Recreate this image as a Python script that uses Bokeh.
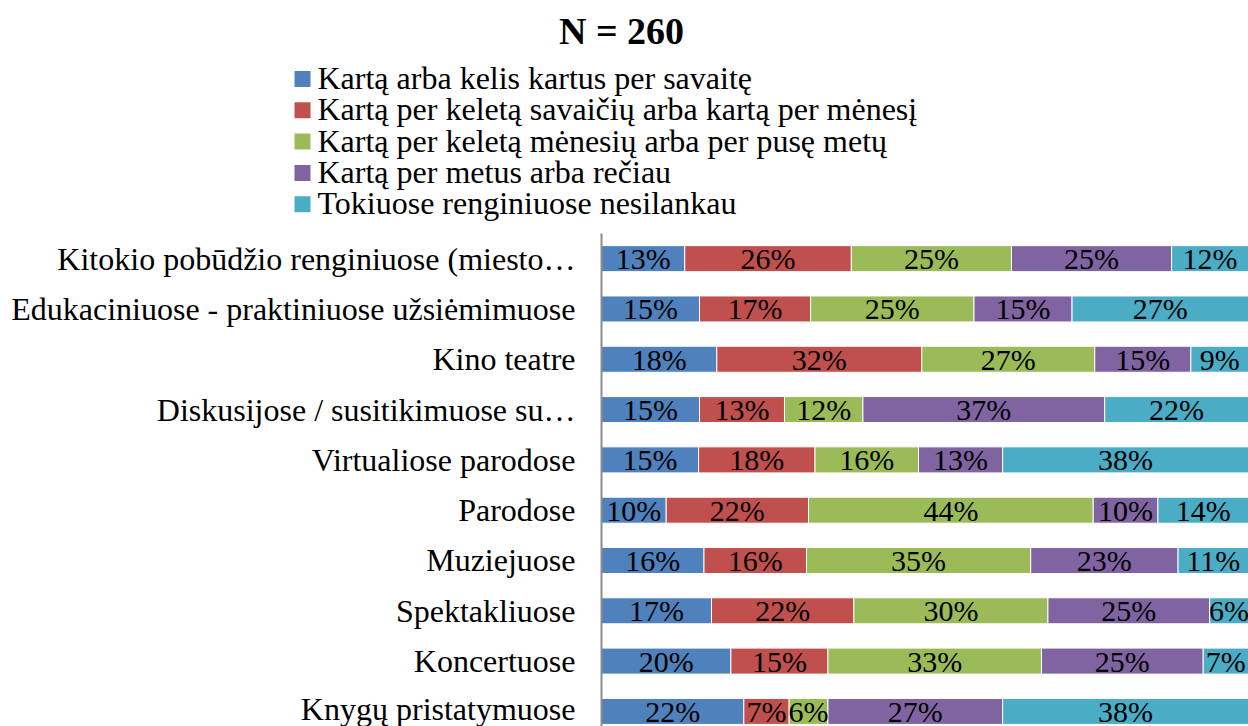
from bokeh.plotting import figure
from bokeh.models import Range1d, FixedTicker, ColumnDataSource
from bokeh.layouts import column
from bokeh.embed import file_html
from bokeh.resources import INLINE
from bokeh.core.properties import value

title_text = "N = 260"

# bottom -> top
categories = [
    "Knygų pristatymuose",
    "Koncertuose",
    "Spektakliuose",
    "Muziejuose",
    "Parodose",
    "Virtualiose parodose",
    "Diskusijose / susitikimuose su…",
    "Kino teatre",
    "Edukaciniuose - praktiniuose užsiėmimuose",
    "Kitokio pobūdžio renginiuose (miesto…",
]

series_names = [
    "Kartą arba kelis kartus per savaitę",
    "Kartą per keletą savaičių arba kartą per mėnesį",
    "Kartą per keletą mėnesių arba per pusę metų",
    "Kartą per metus arba rečiau",
    "Tokiuose renginiuose nesilankau",
]

weekly   = [22, 20, 17, 16, 10, 15, 15, 18, 15, 13]
monthly  = [7, 15, 22, 16, 22, 18, 13, 32, 17, 26]
halfyear = [6, 33, 30, 35, 44, 16, 12, 27, 25, 25]
yearly   = [27, 25, 25, 23, 10, 13, 37, 15, 15, 25]
never    = [38, 7, 6, 11, 14, 38, 22, 9, 27, 12]

colors = ["#4F81BD", "#C0504D", "#9BBB59", "#8064A2", "#4BACC6"]

FONT = "Liberation Serif"

series_values = [weekly, monthly, halfyear, yearly, never]
keys = ["s0", "s1", "s2", "s3", "s4"]
n = len(categories)
ypos = list(range(n))
totals = [sum(s[i] for s in series_values) for i in range(n)]

data = {"y": ypos}
for k, vals in zip(keys, series_values):
    data[k] = [v / t * 100 for v, t in zip(vals, totals)]
src = ColumnDataSource(data)

# ---------------- header figure: title + legend ----------------
W = 1248
HEAD_H = 233
head = figure(width=W, height=HEAD_H, x_range=Range1d(0, W), y_range=Range1d(HEAD_H, 0),
              output_backend="svg", toolbar_location=None,
              x_axis_location=None, y_axis_location=None,
              min_border=0, min_border_left=0, min_border_right=0,
              min_border_top=0, min_border_bottom=0)
head.frame_align = False
head.grid.visible = False
head.outline_line_color = None

head.text(x=[621], y=[30], text=[title_text], text_font=value(FONT),
          text_font_size="38px", text_font_style="bold", text_align="center",
          text_baseline="middle", text_color="black")

leg_x_sq = 302
leg_x_txt = 317
leg_y0 = 78.5
leg_dy = 31.3
sq_y = [leg_y0 + i * leg_dy for i in range(len(series_names))]
head.rect(x=[leg_x_sq] * len(series_names), y=sq_y, width=16, height=16,
          width_units="screen", height_units="screen",
          fill_color=colors, line_color=None)
head.text(x=[leg_x_txt] * len(series_names), y=[yy - 1 for yy in sq_y], text=series_names,
          text_font=value(FONT), text_font_size="32px", text_align="left",
          text_baseline="middle", text_color="black")

# ---------------- bar figure ----------------
BODY_H = 493
p = figure(width=W, height=BODY_H, x_range=Range1d(0, 100), y_range=Range1d(-0.30, 9.5),
           output_backend="svg", toolbar_location=None, x_axis_location=None,
           min_border_left=601, min_border_right=0, min_border_top=0, min_border_bottom=0)
p.frame_align = False
p.grid.visible = False
p.outline_line_color = None

p.hbar_stack(keys, y="y", height=0.517, color=colors, source=src,
             line_color="white", line_width=1)

# data labels
lx, ly, lt = [], [], []
for i in range(n):
    left = 0.0
    for k, vals in zip(keys, series_values):
        w = data[k][i]
        lx.append(left + w / 2)
        ly.append(i)
        lt.append(f"{vals[i]}%")
        left += w
p.text(x=lx, y=ly, text=lt, text_font=value(FONT), text_font_size="30px",
       text_align="center", text_baseline="middle", text_color="black")

ax = p.yaxis[0]
ax.ticker = FixedTicker(ticks=ypos)
ax.major_label_overrides = {i: c for i, c in enumerate(categories)}
ax.major_label_text_font = FONT
ax.major_label_text_font_size = "32px"
ax.major_label_text_color = "black"
ax.major_label_standoff = 26
ax.major_tick_out = 0
ax.major_tick_in = 0
ax.major_tick_line_color = None
ax.minor_tick_line_color = None
ax.axis_line_color = "#8C8C8C"
ax.axis_line_width = 2

layout = column(head, p, spacing=0)
open("out.html", "w").write(file_html(layout, INLINE))
